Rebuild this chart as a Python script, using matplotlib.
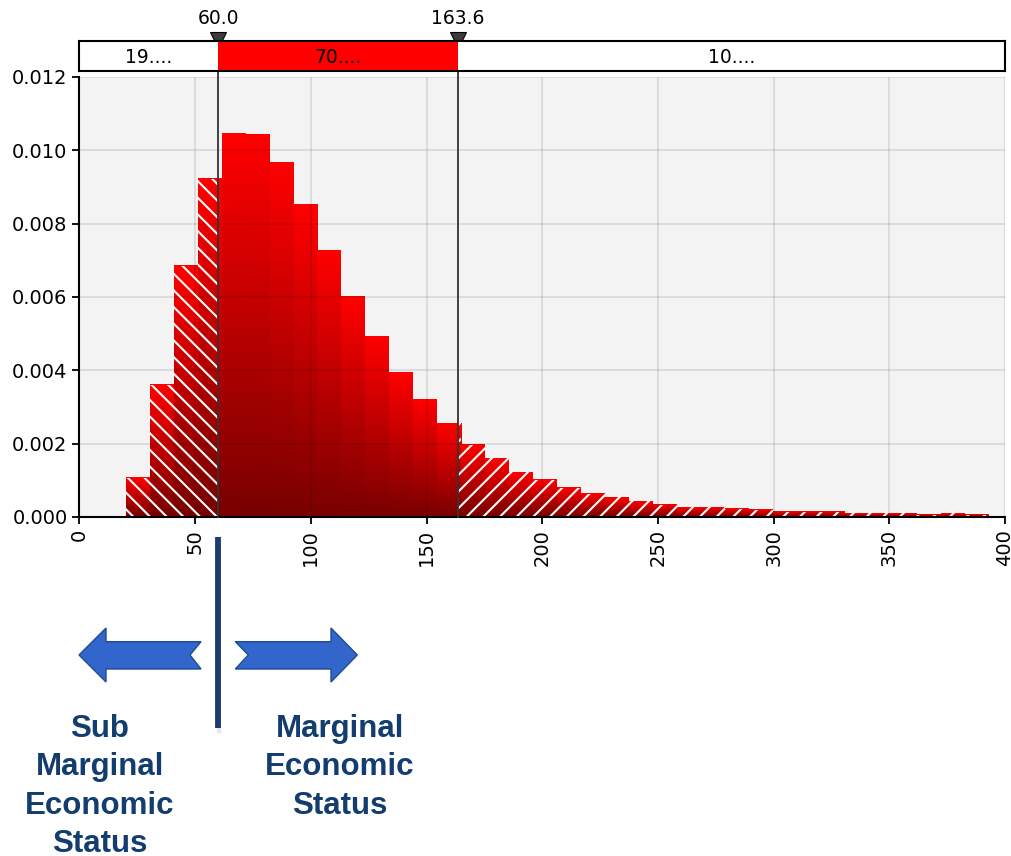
import numpy as np
import matplotlib
matplotlib.use("Agg")
import matplotlib.pyplot as plt
from matplotlib import transforms
from matplotlib.colors import LinearSegmentedColormap
from matplotlib.patches import Rectangle, Polygon

# --- data --------------------------------------------------------------
BIN_EDGES = np.linspace(20.0, 393.0, 37)      # 36 bins
DENSITY = [0.00107, 0.00361, 0.00685, 0.00923, 0.01045, 0.01043,
           0.00967, 0.00853, 0.00727, 0.00602, 0.00493, 0.00394,
           0.00321, 0.00256, 0.00197, 0.00160, 0.00122, 0.00101,
           0.00080, 0.00064, 0.00054, 0.00043, 0.00033, 0.00027,
           0.00027, 0.00022, 0.00020, 0.00015, 0.00015, 0.00015,
           0.00010, 0.00010, 0.00010, 0.00006, 0.00010, 0.00006]
LOWER, UPPER = 60.0, 163.6
RANGE_LABELS = ["19....", "70....", "10...."]
XTICKS = list(range(0, 401, 50))
YTICKS = [0.000, 0.002, 0.004, 0.006, 0.008, 0.010, 0.012]
LEFT_LINES = ["Sub", "Marginal", "Economic", "Status"]
RIGHT_LINES = ["Marginal", "Economic", "Status"]

W_PX, H_PX = 1011, 856
plt.rcParams.update({
    "font.family": "DejaVu Sans",
    "hatch.linewidth": 1.5,
})

fig = plt.figure(figsize=(W_PX / 100, H_PX / 100), dpi=100)


def fx(px):
    return px / W_PX


def fy(py):
    return 1 - py / H_PX


AX_L, AX_R, AX_T, AX_B = 79.4, 1005, 77, 517
ax = fig.add_axes([fx(AX_L), fy(AX_B), fx(AX_R - AX_L), (AX_B - AX_T) / H_PX])
ax.set_facecolor("#f3f3f3")

cmap = LinearSegmentedColormap.from_list("bar", ["#780000", "#ff0000"])
grad = np.linspace(0, 1, 128).reshape(-1, 1)

for x0, x1, h in zip(BIN_EDGES[:-1], BIN_EDGES[1:], DENSITY):
    cuts = sorted({x0, x1} | {c for c in (LOWER, UPPER) if x0 < c < x1})
    for a, b in zip(cuts[:-1], cuts[1:]):
        ax.imshow(grad, extent=[a, b, 0, h], origin="lower", aspect="auto",
                  cmap=cmap, interpolation="bilinear", zorder=2)
        if b <= LOWER or a >= UPPER:
            hatch = "\\\\" if b <= LOWER else "//"
            ax.add_patch(Rectangle((a, 0), b - a, h, fill=False, hatch=hatch,
                                   edgecolor="white", lw=0, zorder=3))

ax.set_xlim(0, 400)
ax.set_ylim(0, 0.012)
ax.set_xticks(XTICKS)
ax.set_yticks(YTICKS)
ax.set_yticklabels([f"{v:.3f}" for v in YTICKS])
ax.tick_params(axis="both", labelsize=14, length=5, width=1.3, color="black")
ax.tick_params(axis="x", labelrotation=90)
ax.grid(True, color="black", alpha=0.1, lw=1.3)
ax.set_axisbelow(False)
for s in ("top", "right"):
    ax.spines[s].set_visible(False)
for s in ("left", "bottom"):
    ax.spines[s].set_linewidth(1.5)
    ax.spines[s].set_zorder(5)

# --- range bar on top ----------------------------------------------------
bx = fig.add_axes([fx(AX_L), fy(71), fx(AX_R - AX_L), 30 / H_PX])
bx.set_xlim(0, 400)
bx.set_ylim(0, 1)
bx.axvspan(LOWER, UPPER, color="#ff0000", lw=0)
bx.set_xticks([])
bx.set_yticks([])
for s in bx.spines.values():
    s.set_linewidth(1.5)
centers = [LOWER / 2, (LOWER + UPPER) / 2, (UPPER + 400) / 2]
for c, lab in zip(centers, RANGE_LABELS):
    bx.text(c, 0.45, lab, ha="center", va="center", fontsize=13.5)

trans = transforms.blended_transform_factory(ax.transData, fig.transFigure)
for v in (LOWER, UPPER):
    ax.plot([v, v], [fy(AX_B), fy(34)], transform=trans, color="#333333",
            lw=1.3, clip_on=False, zorder=6)
    ax.plot([v], [fy(40)], transform=trans, marker="v", ms=12,
            color="#3c3c3c", mec="black", mew=0.8, clip_on=False, zorder=7)
    ax.text(v, fy(18), f"{v:.1f}", transform=trans, ha="center",
            va="center", fontsize=13.5)

# --- annotation below the chart -----------------------------------------
ov = fig.add_axes([0, 0, 1, 1])
ov.set_xlim(0, W_PX)
ov.set_ylim(H_PX, 0)
ov.axis("off")

navy = "#123d6e"
ov.plot([219, 219], [540, 731], color="#d0d0d0", lw=3.0, alpha=0.5)
ov.plot([218, 218], [537, 728], color="#1c3d6c", lw=4.2, solid_capstyle="butt")

left_arrow = [(79, 655), (106, 628), (106, 641.7), (201, 641.7), (190, 655),
              (201, 669), (106, 669), (106, 682)]
right_arrow = [(235.3, 641.7), (331, 641.7), (331, 628), (357.3, 655),
               (331, 682), (331, 669), (235.3, 669), (248.3, 655)]
for pts in (left_arrow, right_arrow):
    ov.add_patch(Polygon(pts, closed=True, facecolor="#3366cc",
                         edgecolor="#1f4c8f", lw=1))

for k, line in enumerate(LEFT_LINES):
    ov.text(100, 737 + 38.3 * k, line, ha="center", va="baseline",
            fontsize=22.5, fontweight="bold", family="Liberation Sans",
            color=navy)
for k, line in enumerate(RIGHT_LINES):
    ov.text(340, 737 + 38.3 * k, line, ha="center", va="baseline",
            fontsize=22.5, fontweight="bold", family="Liberation Sans",
            color=navy)

fig.savefig("out.png", dpi=100)
